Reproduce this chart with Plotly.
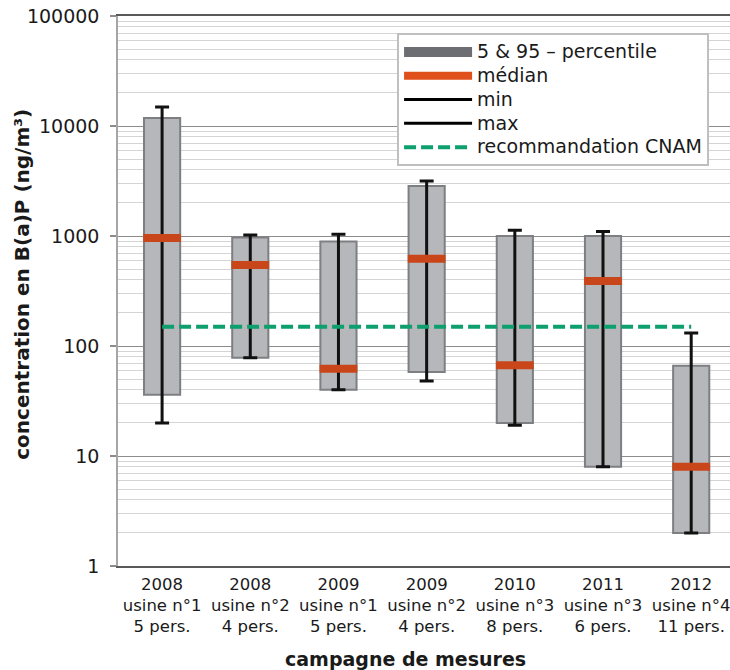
import plotly.graph_objects as go

# ---- data ----
categories = [
    "2008<br>usine n°1<br>5 pers.",
    "2008<br>usine n°2<br>4 pers.",
    "2009<br>usine n°1<br>5 pers.",
    "2009<br>usine n°2<br>4 pers.",
    "2010<br>usine n°3<br>8 pers.",
    "2011<br>usine n°3<br>6 pers.",
    "2012<br>usine n°4<br>11 pers.",
]
p5 = [36, 78, 40, 58, 20, 8, 2]
p95 = [11800, 970, 890, 2850, 1000, 1000, 66]
median = [960, 545, 62, 620, 67, 390, 8]
vmin = [20, 78, 40, 48, 19, 8, 2]
vmax = [14900, 1020, 1040, 3170, 1130, 1100, 131]
cnam = 150
ytick_vals = [1, 10, 100, 1000, 10000, 100000]
ytick_text = ["1", "10", "100", "1000", "10000", "100000"]
minor_vals = [k * 10 ** d for d in range(0, 5) for k in range(2, 10)]
legend_names = ["5 & 95 – percentile", "médian", "min", "max", "recommandation CNAM"]

FONT = "DejaVu Sans"
TXT = "#1a1a1a"


def lg(name):
    return f'<span style="font-size:19px">{name}</span>'


fig = go.Figure()

# 5-95 percentile boxes
fig.add_trace(go.Bar(
    x=categories, y=[b - a for a, b in zip(p5, p95)], base=p5,
    width=0.41, marker=dict(color="#b6b7bb", line=dict(color="#7e7f83", width=2)),
    showlegend=False, hoverinfo="skip",
))
# whiskers min-max
fig.add_trace(go.Scatter(
    x=categories, y=median, mode="markers", marker=dict(size=1, opacity=0),
    error_y=dict(type="data", symmetric=False,
                 array=[b - m for b, m in zip(vmax, median)],
                 arrayminus=[m - a for m, a in zip(median, vmin)],
                 color="#111111", thickness=3, width=7),
    showlegend=False, hoverinfo="skip",
))
# median marks
fig.add_trace(go.Scatter(
    x=categories, y=median, mode="markers",
    marker=dict(symbol="line-ew", size=27, color="#c8461a",
                line=dict(color="#c8461a", width=8)),
    showlegend=False, hoverinfo="skip",
))

# legend-only entries
fig.add_trace(go.Scatter(x=[None], y=[None], mode="lines", name=lg(legend_names[0]),
                         line=dict(color="#6d6e73", width=18), legendrank=1))
fig.add_trace(go.Scatter(x=[None], y=[None], mode="lines", name=lg(legend_names[1]),
                         line=dict(color="#e0501a", width=8), legendrank=2))
fig.add_trace(go.Scatter(x=[None], y=[None], mode="lines", name=lg(legend_names[2]),
                         line=dict(color="#000000", width=3), legendrank=3))
fig.add_trace(go.Scatter(x=[None], y=[None], mode="lines", name=lg(legend_names[3]),
                         line=dict(color="#000000", width=3), legendrank=4))

# CNAM recommendation
fig.add_trace(go.Scatter(
    x=[categories[0], categories[-1]], y=[cnam, cnam], mode="lines",
    name=lg(legend_names[4]),
    line=dict(color="#0e9f6e", width=4, dash="12px,5px"), legendrank=5,
    hoverinfo="skip",
))

fig.update_layout(
    width=730, height=670,
    margin=dict(l=118, r=0, t=16, b=104),
    paper_bgcolor="white", plot_bgcolor="white",
    font=dict(family=FONT, color=TXT),
    barmode="overlay",
    legend=dict(
        x=0.456, y=0.969, xanchor="left", yanchor="top",
        bgcolor="white", bordercolor="#bfbfbf", borderwidth=2,
        font=dict(family=FONT, size=16, color=TXT),
        itemwidth=68, tracegroupgap=0,
    ),
    xaxis=dict(
        type="category", range=[-0.5, 6.44],
        showgrid=False, showline=True, linecolor="#595959", linewidth=1.5,
        mirror=True, ticks="", ticklabelstandoff=2,
        tickfont=dict(family=FONT, size=16.5, color=TXT),
    ),
    yaxis=dict(
        type="log", range=[0, 5],
        tickmode="array", tickvals=ytick_vals, ticktext=ytick_text,
        tickfont=dict(family=FONT, size=19, color=TXT), ticklabelstandoff=7,
        ticks="outside", ticklen=6, tickcolor="#8c8c8c", tickwidth=1.5,
        showline=True, linecolor="#a6a6a6", linewidth=1.5,
        showgrid=True, gridcolor="#8c8c8c", gridwidth=1,
        minor=dict(tickmode="array", tickvals=minor_vals, showgrid=True,
                   gridcolor="#d4d4d4", gridwidth=1, ticks=""),
        zeroline=False,
    ),
    annotations=[
        dict(text="<b>campagne de mesures</b>", xref="paper", yref="paper",
             x=0.469, y=-0.169, xanchor="center", yanchor="middle", showarrow=False,
             font=dict(family=FONT, size=19, color=TXT)),
        dict(text="<b>concentration en B(a)P (ng/m³)</b>", xref="paper", yref="paper",
             x=-0.157, y=0.513, xanchor="center", yanchor="middle", showarrow=False,
             textangle=-90, font=dict(family=FONT, size=20, color=TXT)),
    ],
)

fig.write_html("out.html")
